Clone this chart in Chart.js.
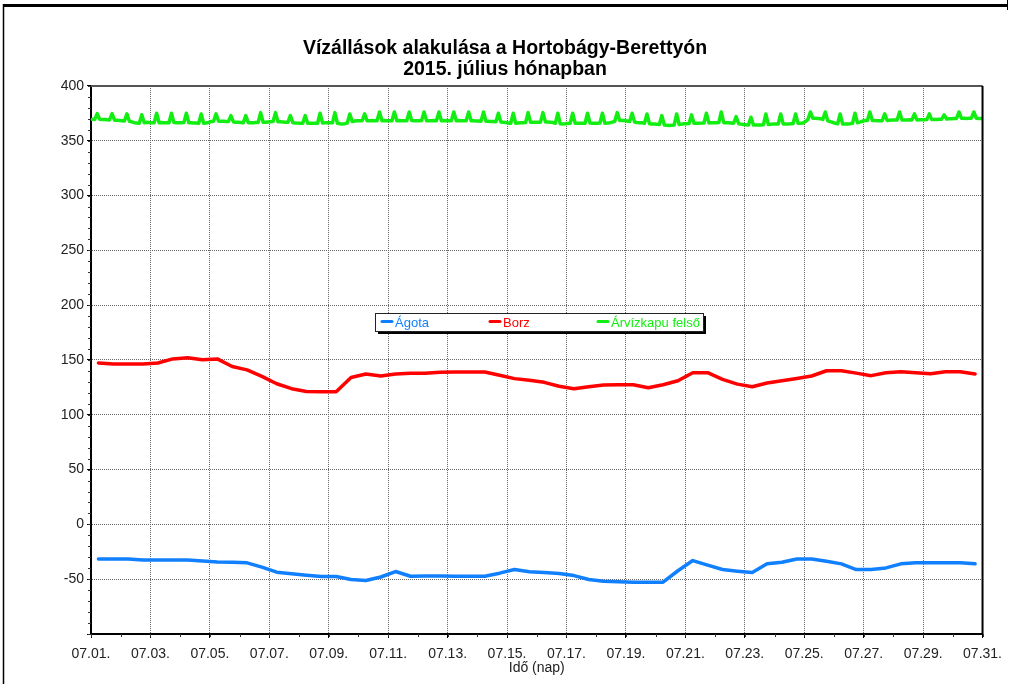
<!DOCTYPE html>
<html>
<head>
<meta charset="utf-8">
<title>Vízállások alakulása a Hortobágy-Berettyón</title>
<script src="https://cdn.jsdelivr.net/npm/chart.js@4.4.0/dist/chart.umd.min.js"></script>
<style>
  html, body { margin: 0; padding: 0; background: #fff; }
  canvas { display: block; }
</style>
</head>
<body>
<canvas id="chart" width="1010" height="684"></canvas>
<script>
const FONT = "'Liberation Sans', Arial, sans-serif";

const titleLines = ['Vízállások alakulása a Hortobágy-Berettyón', '2015. július hónapban'];
const xTitle = 'Idő (nap)';
const seriesNames = ['Ágota', 'Borz', 'Árvízkapu felső'];
const seriesColors = ['#1080ff', '#ff0000', '#12ee12'];

const xTickDays = [1, 3, 5, 7, 9, 11, 13, 15, 17, 19, 21, 23, 25, 27, 29, 31];
const xTickLabels = ['07.01.', '07.03.', '07.05.', '07.07.', '07.09.', '07.11.', '07.13.', '07.15.',
    '07.17.', '07.19.', '07.21.', '07.23.', '07.25.', '07.27.', '07.29.', '07.31.'];
const yTicks = [-100, -50, 0, 50, 100, 150, 200, 250, 300, 350, 400];

// twice a day (06:00 and 18:00), 1-30 July
const agota = [
    -31.5, -31.5, -31.5, -32.4, -32.4, -32.4, -32.4, -33.3, -34.2, -34.5,
    -35.1, -39.0, -43.6, -45.1, -46.4, -47.6, -47.6, -50.3, -51.2, -48.0,
    -43.0, -47.3, -47.0, -47.0, -47.3, -47.3, -47.3, -44.5, -41.2, -43.2,
    -43.9, -44.8, -46.7, -50.3, -51.8, -52.4, -52.7, -52.7, -52.7, -42.3,
    -33.0, -37.2, -41.2, -42.7, -43.9, -36.0, -34.5, -31.5, -31.5, -33.6,
    -36.0, -41.2, -41.2, -39.7, -36.0, -35.1, -35.1, -35.1, -35.1, -36.0
];
const borz = [
    147.3, 146.3, 146.3, 146.3, 147.3, 151.0, 152.0, 150.3, 151.0, 144.0,
    141.0, 135.0, 128.3, 123.8, 121.3, 121.0, 121.0, 134.0, 137.2, 135.4,
    137.2, 138.0, 138.0, 138.7, 139.0, 139.0, 139.0, 136.0, 133.0, 131.5,
    129.6, 126.0, 123.8, 125.6, 127.1, 127.4, 127.4, 124.7, 127.4, 131.0,
    138.4, 138.4, 132.3, 128.0, 125.6, 129.0, 131.0, 133.2, 135.4, 140.2,
    140.2, 138.0, 135.7, 138.4, 139.3, 138.4, 137.5, 139.3, 139.3, 137.2
];
// every two hours (01:00, 03:00 ... 23:00), one row per day
const arvizkapu = [
    369.6, 369.5, 374.8, 369.6, 369.4, 369.3, 369.2, 369.0, 374.8, 368.8, 368.7, 368.5,
    368.3, 368.0, 374.5, 367.8, 367.2, 366.5, 366.2, 366.0, 373.7, 366.5, 366.8, 366.6,
    366.5, 366.4, 375.1, 366.5, 366.6, 366.5, 366.4, 366.5, 375.1, 366.6, 366.5, 366.4,
    366.5, 366.6, 375.1, 366.5, 366.4, 366.3, 366.2, 366.0, 374.5, 366.0, 366.2, 366.8,
    367.5, 367.8, 374.5, 367.9, 367.8, 367.7, 367.6, 367.5, 373.0, 367.2, 367.0, 366.8,
    366.6, 366.5, 373.0, 366.5, 366.4, 366.5, 366.6, 366.7, 375.7, 366.9, 367.0, 367.2,
    367.4, 367.5, 375.7, 367.4, 367.3, 367.2, 367.0, 366.8, 373.0, 366.5, 366.3, 366.1,
    366.0, 366.0, 373.0, 366.0, 366.1, 366.0, 365.9, 366.0, 375.1, 366.2, 366.4, 366.5,
    366.5, 366.4, 375.7, 366.0, 365.6, 365.4, 365.6, 366.2, 374.5, 367.5, 368.0, 368.2,
    368.3, 368.3, 374.5, 368.2, 368.3, 368.4, 368.3, 368.2, 376.3, 368.3, 368.4, 368.3,
    368.3, 368.2, 376.3, 368.3, 368.4, 368.3, 368.2, 368.3, 376.3, 368.4, 368.3, 368.2,
    368.3, 368.4, 376.3, 368.3, 368.2, 368.3, 368.4, 368.3, 376.3, 368.2, 368.3, 368.4,
    368.3, 368.2, 376.3, 368.3, 368.4, 368.3, 368.2, 368.3, 376.3, 368.3, 368.2, 368.1,
    368.0, 367.9, 376.3, 367.8, 367.7, 367.6, 367.5, 367.4, 375.1, 367.2, 366.9, 366.6,
    366.3, 366.0, 375.1, 366.0, 366.2, 366.4, 366.5, 366.6, 375.7, 366.8, 367.0, 367.0,
    367.0, 367.0, 375.7, 367.2, 367.1, 367.0, 366.6, 366.0, 375.1, 365.5, 365.3, 365.5,
    365.8, 366.0, 375.1, 366.0, 366.1, 366.0, 365.9, 366.0, 375.1, 366.1, 366.0, 366.0,
    366.0, 366.1, 375.1, 366.0, 366.2, 366.5, 367.0, 367.8, 375.7, 368.5, 368.6, 368.4,
    368.0, 367.5, 375.1, 367.0, 366.6, 366.5, 366.4, 366.0, 374.5, 365.6, 365.4, 365.2,
    365.0, 364.8, 373.0, 364.4, 364.2, 364.0, 364.2, 364.4, 374.5, 364.8, 365.2, 365.5,
    365.6, 365.8, 373.6, 365.9, 366.0, 366.0, 366.1, 366.2, 375.1, 366.3, 366.4, 366.5,
    366.5, 366.6, 376.3, 366.5, 366.4, 366.5, 366.3, 366.0, 372.1, 365.6, 365.2, 364.8,
    364.6, 364.5, 371.5, 364.4, 364.3, 364.4, 364.5, 364.6, 374.5, 364.8, 365.0, 365.2,
    365.3, 365.3, 374.5, 365.4, 365.3, 365.4, 365.5, 365.7, 374.5, 365.9, 366.0, 366.2,
    367.5, 369.5, 376.3, 370.5, 370.5, 370.4, 370.2, 369.5, 376.3, 368.2, 367.5, 366.8,
    366.0, 365.5, 374.5, 365.3, 365.3, 365.4, 365.6, 366.0, 375.1, 366.5, 367.0, 367.8,
    368.5, 368.6, 376.3, 368.5, 368.4, 368.3, 368.2, 368.3, 374.5, 368.5, 368.7, 368.9,
    369.0, 369.0, 376.3, 369.0, 368.9, 369.0, 369.1, 369.0, 374.5, 369.0, 369.1, 369.2,
    369.2, 369.3, 374.5, 369.3, 369.4, 369.5, 369.6, 369.7, 373.6, 369.8, 370.0, 370.2,
    370.3, 370.4, 376.3, 370.5, 370.5, 370.4, 370.5, 370.6, 376.3, 370.5, 370.4, 370.3
];

// x is the day of July (1.0 = 07.01. 00:00)
const halfDayPoints = vals => vals.map((v, i) => ({ x: 1.25 + i / 2, y: v }));
const twoHourPoints = vals => vals.map((v, i) => ({ x: 1 + (2 * i + 1) / 24, y: v }));

function lineSet(label, color, points) {
    return {
        label: label,
        data: points,
        borderColor: color,
        backgroundColor: color,
        borderWidth: 3.5,
        pointRadius: 0,
        tension: 0,
        borderJoinStyle: 'round',
        borderCapStyle: 'round',
    };
}

// frame, minor ticks and the boxed legend in the middle of the plot
const decorations = {
    id: 'decorations',
    afterDraw(chart) {
        const ctx = chart.ctx;
        const area = chart.chartArea;
        const xs = chart.scales.x, ys = chart.scales.y;
        ctx.save();

        // page frame
        ctx.strokeStyle = '#000';
        ctx.lineWidth = 3;
        ctx.beginPath(); ctx.moveTo(3, 5.5); ctx.lineTo(1008, 5.5); ctx.stroke();
        ctx.lineWidth = 1.5;
        ctx.beginPath(); ctx.moveTo(3.5, 4); ctx.lineTo(3.5, 684); ctx.stroke();
        ctx.lineWidth = 1;
        ctx.beginPath(); ctx.moveTo(1007.5, 0); ctx.lineTo(1007.5, 10); ctx.stroke();

        // plot frame: top and right
        ctx.strokeStyle = '#555';
        ctx.lineWidth = 2;
        ctx.beginPath(); ctx.moveTo(area.left, area.top); ctx.lineTo(area.right, area.top); ctx.stroke();
        ctx.strokeStyle = '#000';
        ctx.beginPath(); ctx.moveTo(area.right, area.top); ctx.lineTo(area.right, area.bottom + 1); ctx.stroke();

        // minor ticks
        ctx.lineWidth = 1;
        ctx.strokeStyle = '#333';
        ctx.beginPath();
        for (let v = -100; v <= 400; v += 10) {
            const py = Math.round(ys.getPixelForValue(v)) + 0.5;
            ctx.moveTo(area.left - 3, py); ctx.lineTo(area.left, py);
        }
        for (let d = 1; d <= 31; d++) {
            const px = Math.round(xs.getPixelForValue(d)) + 0.5;
            ctx.moveTo(px, area.bottom); ctx.lineTo(px, area.bottom + 3);
        }
        ctx.stroke();

        // legend box with shadow
        const lx = 375, ly = 313, lw = 328, lh = 18;
        ctx.fillStyle = '#000';
        ctx.fillRect(lx + 3, ly + 3, lw, lh);
        ctx.fillStyle = '#fff';
        ctx.fillRect(lx, ly, lw, lh);
        ctx.strokeStyle = '#222';
        ctx.lineWidth = 1;
        ctx.strokeRect(lx + 0.5, ly + 0.5, lw, lh);
        ctx.font = '13px ' + FONT;
        ctx.textBaseline = 'middle';
        ctx.textAlign = 'left';
        chart.data.datasets.forEach((ds, i) => {
            const ix = lx + 6 + i * 108;
            const iy = ly + 10;
            ctx.strokeStyle = ds.borderColor;
            ctx.lineWidth = 3;
            ctx.lineCap = 'round';
            ctx.beginPath(); ctx.moveTo(ix + 1, iy - 1.5); ctx.lineTo(ix + 11, iy - 1.5); ctx.stroke();
            ctx.fillStyle = ds.borderColor;
            ctx.fillText(ds.label, ix + 14, iy);
        });
        ctx.restore();
    }
};

const ctx = document.getElementById('chart').getContext('2d');
new Chart(ctx, {
    type: 'line',
    data: {
        datasets: [
            lineSet(seriesNames[0], seriesColors[0], halfDayPoints(agota)),
            lineSet(seriesNames[1], seriesColors[1], halfDayPoints(borz)),
            lineSet(seriesNames[2], seriesColors[2], twoHourPoints(arvizkapu)),
        ],
    },
    options: {
        responsive: false,
        animation: false,
        layout: { padding: 0 },
        plugins: {
            legend: { display: false },
            tooltip: { enabled: false },
            title: {
                display: true,
                text: titleLines,
                color: '#000',
                font: { family: FONT, size: 19.5, weight: 'bold', lineHeight: 1.03 },
                padding: { top: 39, bottom: 6.8 },
            },
        },
        scales: {
            x: {
                type: 'linear',
                min: 1,
                max: 31,
                afterBuildTicks: s => { s.ticks = xTickDays.map(v => ({ value: v })); },
                afterFit: s => { s.height = 50; },
                ticks: {
                    callback: (v, i) => xTickLabels[i],
                    color: '#222',
                    font: { family: FONT, size: 14 },
                    padding: 8,
                    maxRotation: 0,
                    autoSkip: false,
                },
                grid: { color: '#666', tickColor: '#000', tickLength: 4, lineWidth: 1 },
                border: { color: '#000', width: 2, dash: [1, 1] },
                title: {
                    display: true,
                    text: xTitle,
                    color: '#222',
                    font: { family: FONT, size: 14, lineHeight: 1.2 },
                    padding: { top: 0, bottom: 7 },
                },
            },
            y: {
                min: -100,
                max: 400,
                afterBuildTicks: s => { s.ticks = yTicks.map(v => ({ value: v })); },
                afterFit: s => { s.width = 91; },
                ticks: {
                    callback: v => (v === -100 ? '' : v),
                    color: '#222',
                    font: { family: FONT, size: 14 },
                    padding: 3,
                },
                grid: { color: '#666', tickColor: '#000', tickLength: 4, lineWidth: 1 },
                border: { color: '#000', width: 2, dash: [1, 1] },
            },
            // empty strip on the right so the plot ends where the original does
            yRight: {
                position: 'right',
                min: -100,
                max: 400,
                afterFit: s => { s.width = 27; },
                ticks: { display: false },
                grid: { display: false },
                border: { display: false },
            },
        },
    },
    plugins: [decorations],
});
</script>
</body>
</html>
